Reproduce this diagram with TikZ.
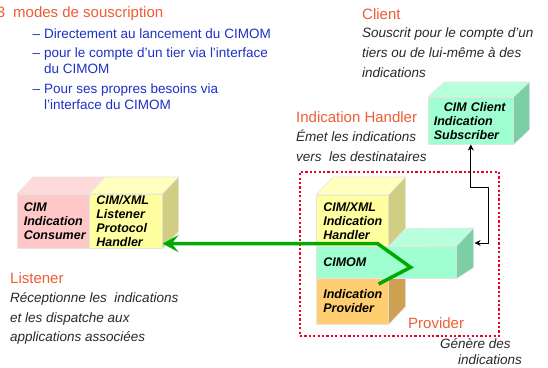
\documentclass[tikz,border=0pt]{standalone}
\usepackage{fontspec}
\setmainfont{Liberation Sans}
\usetikzlibrary{arrows.meta}

\definecolor{headorange}{RGB}{238,92,52}
\definecolor{listblue}{RGB}{28,48,196}
\definecolor{notegray}{RGB}{40,40,40}
\definecolor{pinkfront}{RGB}{255,200,200}
\definecolor{pinktop}{RGB}{255,218,218}
\definecolor{yelfront}{RGB}{255,255,160}
\definecolor{yeltop}{RGB}{255,255,190}
\definecolor{yelside}{RGB}{208,206,130}
\definecolor{mintfront}{RGB}{160,255,208}
\definecolor{minttop}{RGB}{184,255,220}
\definecolor{mintside}{RGB}{124,206,164}
\definecolor{orfront}{RGB}{255,206,112}
\definecolor{orside}{RGB}{206,162,82}
\definecolor{greenarrow}{RGB}{0,170,0}
\definecolor{framered}{RGB}{240,0,40}

\tikzset{
  heading/.style={font=\fontsize{15}{18}\selectfont, text=headorange, inner sep=0pt},
  note/.style={font=\fontsize{13.5}{19.7}\selectfont\itshape, text=notegray, align=left, inner sep=0pt},
  bullets/.style={font=\fontsize{13.5}{16.3}\selectfont, text=listblue, align=left, inner sep=0pt},
  face/.style={draw=black!10, line width=0.6pt},
  boxtext/.style={face, font=\fontsize{12.5}{14}\selectfont\bfseries\itshape, align=left,
    inner xsep=7pt, inner ysep=0pt, anchor=north west}
}

\begin{document}
\begin{tikzpicture}[x=1pt, y=-1pt]
  \useasboundingbox (0,0) rectangle (548,367);

  % texts (multi-line nodes sit on their last baseline)
  \node[heading, anchor=base west] (modes) at (13,17.5) {\llap{3\hspace{8pt}}modes de souscription};
  \node[bullets, anchor=base west] (sub1) at (44,38) {\llap{--\hspace{4pt}}Directement au lancement du CIMOM};
  \node[bullets, anchor=base west] (sub2) at (44,73.3) {\llap{--\hspace{4pt}}pour le compte d’un tier via l’interface\\du CIMOM};
  \node[bullets, anchor=base west] (sub3) at (44,109.3) {\llap{--\hspace{4pt}}Pour ses propres besoins via\\l’interface du CIMOM};

  \node[heading, anchor=base west] (clientlbl) at (362,19) {Client};
  \node[note, anchor=base west] (clientnote) at (362,77) {Souscrit pour le compte d’un\\tiers ou de lui-même à des\\indications};
  \node[heading, anchor=base west] (hdllbl) at (296,122.7) {Indication Handler};
  \node[note, anchor=base west] (hdlnote) at (296,161.5) {Émet les indications\\vers\ \ les destinataires};
  \node[heading, anchor=base west] (lstlbl) at (10,283.3) {Listener};
  \node[note, anchor=base west] (lstnote) at (10,341.7) {Réceptionne les\ \ indications\\et les dispatche aux\\applications associées};
  \node[heading, anchor=base west] (provlbl) at (408,328.3) {Provider};
  \node[note, anchor=base west, font=\fontsize{13.5}{16}\selectfont\itshape] (provnote) at (440,364) {Génère des\\\hspace*{18pt}indications};

  % provider frame
  \node[draw=framered, line width=2pt, dash pattern=on 2.2pt off 2.2pt, anchor=north west,
    minimum width=199pt, minimum height=164pt, inner sep=0pt] (provframe) at (299,171) {};

  % listener
  \node[boxtext, fill=pinkfront, inner xsep=6.5pt, text width=59pt, minimum height=54pt] (lcons) at (17,194) {CIM\\Indication\\Consumer};
  \node[boxtext, fill=yelfront, text width=59pt, minimum height=54pt] (lhdl) at (89,194) {CIM/XML\\Listener\\Protocol\\Handler};
  \filldraw[face, fill=pinktop] (lcons.north west) -- ++(16,-17) -- ([shift={(16,-17)}]lcons.north east) -- (lcons.north east) -- cycle;
  \filldraw[face, fill=yeltop] (lhdl.north west) -- ++(16,-17) -- ([shift={(16,-17)}]lhdl.north east) -- (lhdl.north east) -- cycle;
  \filldraw[face, fill=yelside] (lhdl.north east) -- ++(16,-17) -- ([shift={(16,-17)}]lhdl.south east) -- (lhdl.south east) -- cycle;

  % client
  \node[boxtext, fill=mintfront, inner xsep=5.5pt, text width=74pt, minimum height=47pt] (client) at (428,97) {\hspace*{10pt}CIM Client\\Indication\\Subscriber};
  \filldraw[face, fill=minttop] (client.north west) -- ++(16,-15) -- ([shift={(16,-15)}]client.north east) -- (client.north east) -- cycle;
  \filldraw[face, fill=mintside] (client.north east) -- ++(16,-15) -- ([shift={(16,-15)}]client.south east) -- (client.south east) -- cycle;

  % provider stack
  \node[boxtext, fill=yelfront, text width=58pt, minimum height=51pt] (hdl) at (316,195) {CIM/XML\\Indication\\Handler};
  \filldraw[face, fill=yeltop] (hdl.north west) -- ++(17,-18) -- ([shift={(17,-18)}]hdl.north east) -- (hdl.north east) -- cycle;
  \filldraw[face, fill=yelside] (hdl.north east) -- ++(17,-18) -- ([shift={(17,-18)}]hdl.south east) -- (hdl.south east) -- cycle;
  \node[boxtext, fill=orfront, text width=58pt, minimum height=46pt] (prov) at (316,278) {Indication\\Provider};
  \filldraw[face, fill=orside] (prov.north east) -- ++(17,-18) -- ([shift={(17,-18)}]prov.south east) -- (prov.south east) -- cycle;
  \node[boxtext, fill=mintfront, text width=126pt, minimum height=32pt] (cimom) at (316,246) {CIMOM};
  \filldraw[face, fill=minttop] (hdl.south east) -- ++(17,-18) -- ([shift={(17,-18)}]cimom.north east) -- (cimom.north east) -- cycle;
  \filldraw[face, fill=mintside] (cimom.north east) -- ++(17,-18) -- ([shift={(17,-11)}]cimom.south east) -- (cimom.south east) -- cycle;

  % connectors
  \coordinate (cimomback) at ([shift={(18,-3)}]cimom.north east);
  \draw[line width=0.7pt, {Stealth[length=6pt,width=6pt,inset=2pt]}-{Stealth[length=6pt,width=6pt,inset=2pt]}]
    (client.south) -- ++(0,43) -| ([xshift=14pt]cimomback) -- (cimomback);

  \coordinate (gin) at ([shift={(-10,6)}]prov.north east);
  \coordinate (gout) at ([shift={(-46,5)}]cimom.east);
  \coordinate (gup) at ([shift={(-11,-3)}]hdl.south east);
  \draw[greenarrow, line width=3.5pt, -{Stealth[length=16pt,width=17pt,inset=7pt]}]
    (gin) -- (gout) -- (gup) -- (gup -| lhdl.east);
\end{tikzpicture}
\end{document}
